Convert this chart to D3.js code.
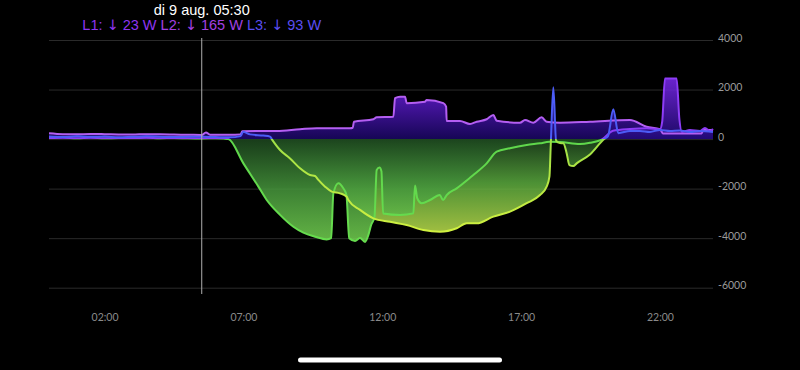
<!DOCTYPE html>
<html>
<head>
<meta charset="utf-8">
<script src="https://cdn.jsdelivr.net/npm/d3@7"></script>
<style>
  html, body { margin: 0; background: #000; }
  svg { display: block; }
</style>
</head>
<body>
<script>
const width = 800;
const height = 370;

// tick values
const yTicks = [4000, 2000, 0, -2000, -4000, -6000];
const xTicks = [2, 7, 12, 17, 22];

// cursor / readout
const cursorHour = 5.5;
const cursorLabel = 'di 9 aug. 05:30';
const readoutPhases = ['L1', 'L2', 'L3'];
const readoutWatts = [23, 165, 93];

// [hour, watts] per phase
const l1 = [
  [0, 40], [0.5, 55], [1, 35], [1.5, 50], [2, 30], [2.5, 45], [3, 40], [3.5, 55], [4, 35], [4.5, 45],
  [5, 30], [5.5, 23], [6, 35], [6.3, 20], [6.46, 0], [7.0, -980], [7.54, -1920], [7.84, -2460],
  [8.32, -3060], [8.8, -3540], [9.16, -3780], [9.58, -3940], [10.0, -4050], [10.16, -4000],
  [10.24, -2190], [10.42, -1780], [10.6, -1990], [10.71, -2260], [10.81, -4000], [11.02, -4110],
  [11.2, -3990], [11.38, -4150], [11.49, -3910], [11.6, -3470], [11.72, -3150], [11.8, -1250],
  [11.9, -1150], [11.97, -1300], [12.03, -3000], [12.64, -3060], [13.12, -3000], [13.18, -1870],
  [13.26, -2390], [13.42, -2590], [13.72, -2460], [14.07, -2260], [14.19, -2460], [14.32, -2260],
  [14.68, -1990], [15.16, -1560], [15.28, -1450], [15.76, -980], [16.12, -510], [16.6, -370],
  [17.2, -240], [17.68, -170], [18.02, -110], [18.4, -120], [19.12, -200], [19.48, -150],
  [19.93, 0], [20.31, 340], [20.92, 410], [21.52, 440], [22.0, 400], [22.08, 700], [22.18, 2450],
  [22.6, 2450], [22.7, 800], [22.79, 290], [23.08, 370], [23.44, 330], [23.62, 450], [23.8, 330],
  [23.91, 410],
];

const l2 = [
  [0, 240], [0.5, 200], [1, 190], [1.5, 210], [2, 200], [2.5, 185], [3, 180], [3.5, 200], [4, 190],
  [4.5, 180], [5, 175], [5.5, 165], [5.65, 270], [5.8, 175], [6.5, 170], [6.9, 190], [6.96, 320],
  [8.2, 330], [9.04, 400], [9.64, 440], [10.84, 440], [10.94, 460], [10.98, 700], [11.68, 800],
  [11.8, 880], [12.4, 900], [12.46, 1650], [12.64, 1710], [12.82, 1710], [12.88, 1450],
  [13.54, 1510], [13.6, 1580], [14.2, 1450], [14.3, 1310], [14.32, 730], [14.8, 730], [15.16, 610],
  [15.4, 700], [15.76, 800], [16.0, 970], [16.12, 740], [16.96, 660], [17.14, 770], [17.44, 660],
  [17.74, 880], [17.92, 700], [18.4, 660], [19.48, 700], [20.92, 770], [21.52, 500], [22.0, 400],
  [22.11, 230], [23.5, 230], [23.56, 370], [23.91, 370],
];

const l3 = [
  [0, 100], [0.5, 80], [1, 110], [1.5, 90], [2, 100], [2.5, 70], [3, 90], [3.5, 110], [4, 95],
  [4.5, 80], [5, 90], [5.5, 93], [6, 80], [6.5, 70], [6.9, 120], [6.99, 300], [7.24, 190],
  [7.72, 140], [7.96, 100], [8.02, 0], [8.32, -440], [8.68, -780], [9.04, -1180], [9.4, -1450],
  [9.58, -1490], [9.7, -1650], [9.94, -1920], [10.18, -2120], [10.48, -2190], [10.72, -2330],
  [10.78, -2460], [11.2, -2860], [11.68, -3200], [12.28, -3340], [12.88, -3470], [13.48, -3670],
  [14.08, -3740], [14.68, -3600], [15.04, -3400], [15.4, -3400], [16.0, -3130], [16.6, -2930],
  [17.2, -2590], [17.68, -2260], [17.92, -1920], [18.02, -1520], [18.07, -170], [18.16, 2090],
  [18.26, -60], [18.4, -160], [18.52, -170], [18.64, -570], [18.74, -1050], [18.88, -1090],
  [19.0, -980], [19.48, -620], [19.99, 0], [20.13, 120], [20.32, 1200], [20.5, 240], [20.92, 330],
  [21.28, 330], [21.64, 290], [22.0, 370], [22.36, 330], [22.72, 350], [23.08, 290], [23.44, 330],
  [23.91, 290],
];

const svg = d3.select('body')
  .append('svg')
  .attr('width', width)
  .attr('height', height)
  .style('background', '#000');

const x = d3.scaleLinear().domain([0, 24]).range([49, 715.5]);
const y = d3.scaleLinear().domain([-6000, 4000]).range([287.7, 40]);

const defs = svg.append('defs');

// vertical gradient in user space, zero line sits at offset 0.5
function addGradient(id, stops) {
  const g = defs.append('linearGradient')
    .attr('id', id)
    .attr('gradientUnits', 'userSpaceOnUse')
    .attr('x1', 0).attr('x2', 0)
    .attr('y1', y(4000)).attr('y2', y(-4000));
  stops.forEach(([o, c]) => g.append('stop').attr('offset', o).attr('stop-color', c));
}

const phases = [
  {
    name: 'L3', data: l3,
    fill: [[0, '#6a3cff'], [0.5, '#16086a'], [0.5, '#1e441e'], [0.72, '#5aaa3e'], [1, '#c8e64e']],
    line: [[0, '#4c5cf6'], [0.5, '#4c5cf6'], [0.5, '#9fe046'], [1, '#d4f240']],
  },
  {
    name: 'L2', data: l2,
    fill: [[0, '#a03cff'], [0.25, '#6a1ee0'], [0.5, '#1a0764'], [0.5, '#1e441e'], [1, '#62b845']],
    line: [[0, '#b45ef2'], [0.5, '#b45ef2'], [0.5, '#5fd74b'], [1, '#5fd74b']],
  },
  {
    name: 'L1', data: l1,
    fill: [[0, '#9a38ff'], [0.2, '#7a28ee'], [0.5, '#220a78'], [0.5, '#1c461e'], [0.75, '#46963c'], [1, '#72d050']],
    line: [[0, '#8d3cf6'], [0.5, '#8d3cf6'], [0.5, '#5fd74b'], [1, '#66dc4e']],
  },
];

phases.forEach((p) => {
  addGradient(`fill-${p.name}`, p.fill);
  addGradient(`line-${p.name}`, p.line);
});

// gridlines + y labels
const yAxis = svg.append('g')
  .attr('transform', 'translate(713,0)')
  .call(d3.axisRight(y).tickValues(yTicks).tickSize(-(713 - 49)).tickPadding(5)
    .tickFormat((d) => String(d)));
yAxis.select('.domain').remove();
yAxis.selectAll('.tick line').attr('stroke', '#2a2a2a');
yAxis.selectAll('.tick text')
  .attr('fill', '#9a9a9a')
  .attr('dy', '0.12em')
  .style('font-family', 'Lato')
  .style('font-size', '10.5px');

// x labels
const xAxis = svg.append('g')
  .attr('transform', 'translate(0,313.5)')
  .call(d3.axisBottom(x).tickValues(xTicks).tickSize(0).tickPadding(0)
    .tickFormat((h) => d3.format('02')(h) + ':00'));
xAxis.select('.domain').remove();
xAxis.selectAll('.tick text')
  .attr('fill', '#8a8a8a')
  .style('font-family', 'Lato')
  .style('font-size', '10.5px');

const area = d3.area()
  .x((d) => x(d[0]))
  .y0(y(0))
  .y1((d) => y(d[1]))
  .curve(d3.curveMonotoneX);

const line = d3.line()
  .x((d) => x(d[0]))
  .y((d) => y(d[1]))
  .curve(d3.curveMonotoneX);

phases.forEach((p) => {
  svg.append('path')
    .datum(p.data)
    .attr('d', area)
    .attr('fill', `url(#fill-${p.name})`)
    .attr('fill-opacity', 0.85);
});

// lines: lilac, purple, blue on top
['L2', 'L1', 'L3'].forEach((n) => {
  const p = phases.find((q) => q.name === n);
  svg.append('path')
    .datum(p.data)
    .attr('d', line)
    .attr('fill', 'none')
    .attr('stroke', `url(#line-${p.name})`)
    .attr('stroke-width', 2)
    .attr('stroke-linejoin', 'round');
});

// cursor
svg.append('line')
  .attr('x1', x(cursorHour)).attr('x2', x(cursorHour))
  .attr('y1', 38).attr('y2', 294)
  .attr('stroke', '#b0b0b0')
  .attr('stroke-width', 1);

svg.append('text')
  .attr('x', x(cursorHour))
  .attr('y', 14.5)
  .attr('text-anchor', 'middle')
  .attr('fill', '#fff')
  .style('font-family', 'Liberation Sans, Arial, sans-serif')
  .style('font-size', '14.5px')
  .text(cursorLabel);

const readoutColors = ['#8e35f0', '#a340e2', '#5a4ef2'];
const readout = svg.append('text')
  .attr('x', x(cursorHour))
  .attr('y', 30)
  .attr('text-anchor', 'middle')
  .style('font-family', 'Liberation Sans, Arial, sans-serif')
  .style('font-size', '14.5px');

readoutPhases.forEach((ph, i) => {
  const c = readoutColors[i];
  readout.append('tspan').attr('fill', c).text(`${i ? ' ' : ''}${ph}: `);
  readout.append('tspan').attr('fill', c).style('font-family', 'DejaVu Sans').text('↓');
  readout.append('tspan').attr('fill', c).text(` ${readoutWatts[i]} W`);
});

// home indicator
svg.append('rect')
  .attr('x', 298).attr('y', 357.5)
  .attr('width', 204).attr('height', 5)
  .attr('rx', 2.5)
  .attr('fill', '#fff');
</script>
</body>
</html>
